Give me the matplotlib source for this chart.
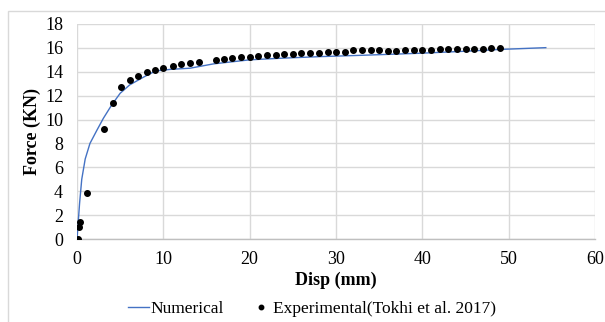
import matplotlib
matplotlib.use("Agg")
import matplotlib.pyplot as plt
from matplotlib.patches import Rectangle
from matplotlib.lines import Line2D

num_x = [0, 0.15, 0.3, 0.55, 0.95, 1.5, 2.3, 3.05, 4.0, 5.0, 6.1, 7.7, 9.1, 10.8, 13.1,
         15.8, 20.0, 23.5, 28.2, 33.0, 39.7, 45.0, 49.0, 54.3]
num_y = [0, 1.5, 3.0, 5.0, 6.7, 8.0, 9.1, 10.1, 11.2, 12.2, 12.9, 13.55, 14.07, 14.2, 14.3,
         14.66, 15.0, 15.13, 15.27, 15.38, 15.55, 15.72, 15.87, 16.02]

exp_x = [0.08, 0.27, 0.38, 1.12, 3.09, 4.13, 5.1, 6.1, 7.1, 8.1, 9.07, 10.0, 11.1, 12.1, 13.1, 14.1,
         16.07, 17.0, 18.0, 19.0, 20.0, 21.0, 22.0, 23.0, 24.0, 25.0,
         26.0, 27.0, 28.0, 29.05, 30.0, 31.0, 32.0, 33.0, 34.0, 35.0, 36.0, 37.0, 38.0, 39.0,
         40.0, 41.0, 42.0, 43.0, 44.0, 45.0, 46.0, 47.0, 48.0, 49.0]
exp_y = [0.0, 1.0, 1.42, 3.83, 9.21, 11.42, 12.73, 13.3, 13.68, 14.0, 14.18, 14.35, 14.49, 14.63, 14.74, 14.85,
         14.97, 15.05, 15.13, 15.2, 15.27, 15.3, 15.38, 15.44, 15.5, 15.52,
         15.55, 15.58, 15.58, 15.69, 15.66, 15.69, 15.8, 15.8, 15.8, 15.8, 15.78, 15.78, 15.8, 15.8,
         15.86, 15.86, 15.88, 15.91, 15.91, 15.94, 15.94, 15.94, 16.0, 16.0]

x_ticks = [0, 10, 20, 30, 40, 50, 60]
y_ticks = [0, 2, 4, 6, 8, 10, 12, 14, 16, 18]

plt.rcParams['font.family'] = ['Liberation Serif', 'DejaVu Serif']

fig = plt.figure(figsize=(6.05, 3.22), dpi=100)
fig.patches.append(Rectangle((8/605, -0.1), 1.2, (322-11)/322 + 0.1, transform=fig.transFigure,
                             fill=False, edgecolor='#d9d9d9', linewidth=1.0))

ax = fig.add_axes([77/605, (322-239)/322, (595-77)/605, (239-24)/322])
ax.plot(num_x, num_y, color='#4472C4', linewidth=1.0, label='Numerical', zorder=3)
ax.plot(exp_x, exp_y, linestyle='none', marker='o', markersize=4.0, color='black',
        label='Experimental(Tokhi et al. 2017)', zorder=4)

ax.set_xlim(0, 60)
ax.set_ylim(0, 18)
ax.set_xticks(x_ticks)
ax.set_yticks(y_ticks)
ax.grid(True, color='#d9d9d9', linewidth=1.0)
ax.set_axisbelow(True)
for s in ['top', 'right', 'left']:
    ax.spines[s].set_visible(False)
ax.spines['bottom'].set_color('#bfbfbf')
ax.spines['bottom'].set_linewidth(1.0)
ax.tick_params(axis='both', length=0, labelsize=13)
ax.tick_params(axis='y', pad=10)
ax.tick_params(axis='x', pad=9)

ax.set_xlabel('Disp (mm)', fontsize=13, fontweight='bold', labelpad=2)
ax.set_ylabel('Force (KN)', fontsize=13, fontweight='bold', labelpad=3)

handles = [Line2D([], [], color='#4472C4', linewidth=1.0),
           Line2D([], [], linestyle='none', marker='o', markersize=3.2, color='black')]
fig.legend(handles, ['Numerical', 'Experimental(Tokhi et al. 2017)'], loc='center',
           bbox_to_anchor=(312/605, (322-309)/322), ncol=2, frameon=False, fontsize=12.5,
           handlelength=1.2, handletextpad=0.1, columnspacing=1.5, borderpad=0)

fig.savefig('out.png', dpi=100)
